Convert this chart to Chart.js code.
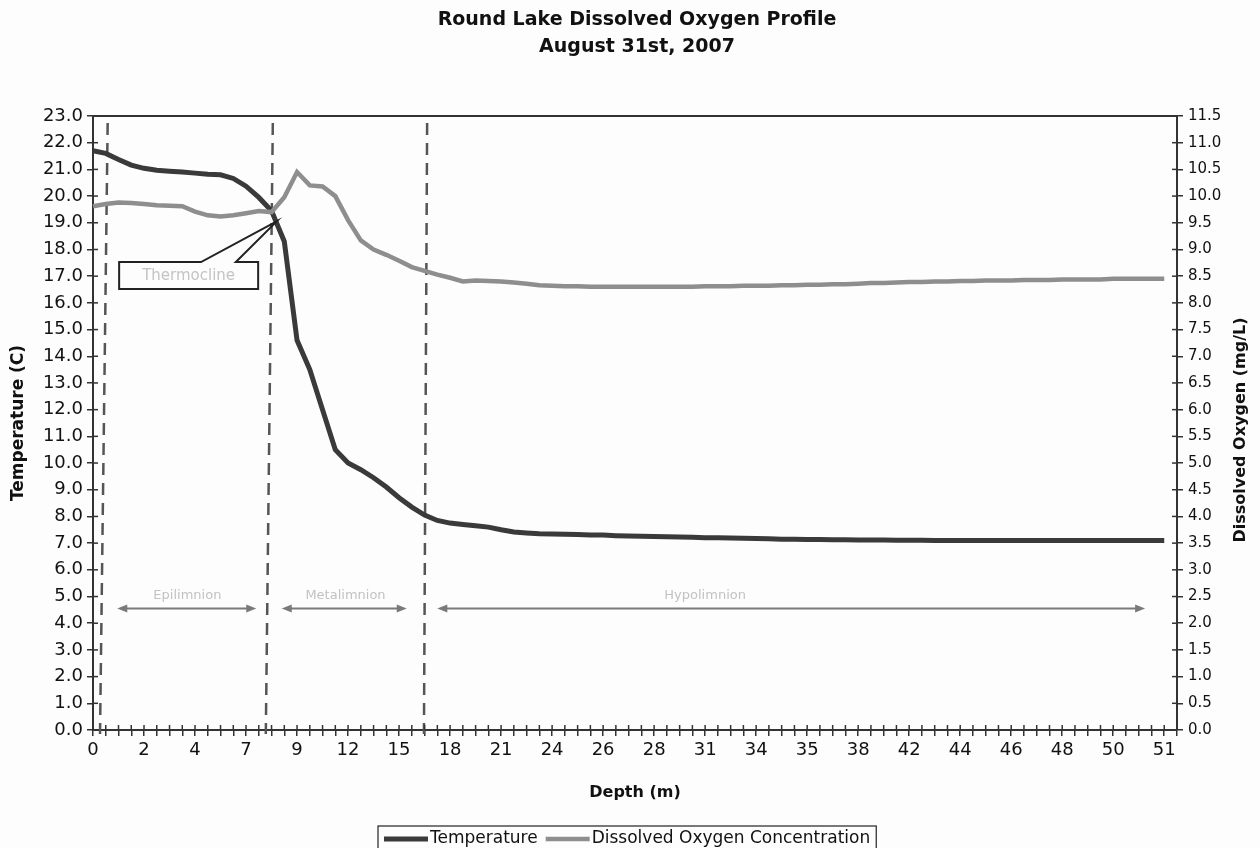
<!DOCTYPE html>
<html><head><meta charset="utf-8">
<style>html,body{margin:0;padding:0;background:#fdfdfd;}#wrap{width:1260px;height:848px;position:relative;}</style>
<script src="https://cdn.jsdelivr.net/npm/chart.js@4.4.1/dist/chart.umd.min.js"></script>
</head><body><div id="wrap"><canvas id="c" width="1260" height="848"></canvas></div>
<script>
const chartTitle = ["Round Lake Dissolved Oxygen Profile", "August 31st, 2007"];
// 86 categories: the last one is an empty row of the sheet (no reading, no label)
const depthLabels = ["0","0.5","1","1.5","2","2.5","3","3.5","4","5","6","6.5","7","7.5","8","8.5","9","10","10.5","11","12","13","13.5","14","15","16","16.5","17","18","19","19.5","20","21","22","22.5","23","24","24.5","25","25.5","26","26.5","27","27.5","28","29","29.5","30","31","32","32.5","33","34","34.2","34.5","34.8","35","36","36.5","37","38","39","40","41","42","42.5","43","43.5","44","44.5","45","45.5","46","46.5","47","47.5","48","48.5","49","49.5","50","50.25","50.5","50.75","51",""];
const temperature = [21.7,21.6,21.37,21.16,21.04,20.97,20.93,20.9,20.86,20.82,
 20.8,20.66,20.37,19.95,19.45,18.3,14.6,13.5,12.0,10.5,
 10.0,9.75,9.45,9.1,8.7,8.35,8.05,7.85,7.75,7.7,
 7.65,7.6,7.5,7.42,7.38,7.35,
 7.34,7.33,7.32,7.3,7.3,7.28,7.27,7.26,7.25,7.24,
 7.23,7.22,7.2,7.2,7.19,7.18,7.17,7.16,7.15,7.15,
 7.14,7.14,7.13,7.13,7.12,7.12,7.12,7.11,7.11,7.11,
 7.1,7.1,7.1,7.1,7.1,7.1,7.1,7.1,7.1,7.1,7.1,7.1,7.1,7.1,7.1,7.1,7.1,7.1,7.1];
const dissolvedOxygen = [9.81,9.85,9.88,9.87,9.85,9.83,9.82,9.81,9.71,9.64,
 9.62,9.64,9.68,9.72,9.70,9.98,10.45,10.2,10.18,10.0,
 9.55,9.17,9.0,8.9,8.79,8.67,8.6,8.53,8.47,8.4,
 8.42,8.41,8.4,8.38,8.36,8.33,
 8.32,8.31,8.31,8.3,8.3,8.3,8.3,8.3,8.3,8.3,8.3,8.3,8.31,8.31,8.31,8.32,8.32,8.32,8.33,8.33,
 8.34,8.34,8.35,8.35,8.36,8.37,8.37,8.38,8.39,8.39,8.4,8.4,8.41,8.41,8.42,8.42,8.42,8.43,8.43,8.43,8.44,8.44,8.44,8.44,8.45,8.45,8.45,8.45,8.45];
const seriesNames = ["Temperature", "Dissolved Oxygen Concentration"];
const axisTitles = {x: "Depth (m)", left: "Temperature (C)", right: "Dissolved Oxygen (mg/L)"};
// layer boundaries (category positions, top and bottom of the slightly skewed scan)
const boundaryTop = [1.15, 14.1, 26.2];
const boundaryBottom = [0.55, 13.55, 25.95];
const layerNames = ["Epilimnion", "Metalimnion", "Hypolimnion"];
const layerFrom = [1.9, 14.8, 27.0];
const layerTo = [12.8, 24.6, 82.5];
const calloutText = "Thermocline";

const FONT = "'DejaVu Sans', sans-serif";
const FAM = "DejaVu Sans";

function arrow(ctx, x1, x2, y){
  ctx.beginPath(); ctx.moveTo(x1+6, y); ctx.lineTo(x2-6, y); ctx.stroke();
  ctx.beginPath(); ctx.moveTo(x1, y); ctx.lineTo(x1+10, y-4); ctx.lineTo(x1+10, y+4); ctx.closePath(); ctx.fill();
  ctx.beginPath(); ctx.moveTo(x2, y); ctx.lineTo(x2-10, y-4); ctx.lineTo(x2-10, y+4); ctx.closePath(); ctx.fill();
}

const decor = {
  id: 'decor',
  beforeDatasetsDraw(chart){
    const {ctx, chartArea: a, scales: {x}} = chart;
    ctx.save();
    ctx.strokeStyle = '#333'; ctx.lineWidth = 2;
    ctx.beginPath(); ctx.moveTo(a.left, a.top); ctx.lineTo(a.right, a.top); ctx.stroke();
    ctx.setLineDash([12, 8]); ctx.strokeStyle = '#555'; ctx.lineWidth = 2.5;
    boundaryTop.forEach((t, k) => {
      ctx.beginPath();
      ctx.moveTo(x.getPixelForValue(t), a.top + 7);
      ctx.lineTo(x.getPixelForValue(boundaryBottom[k]), a.bottom + 4);
      ctx.stroke();
    });
    ctx.restore();
  },
  afterDraw(chart){
    const {ctx, chartArea: a, scales: {x, yT, yDO}} = chart;
    ctx.save();
    ctx.strokeStyle = '#333'; ctx.lineWidth = 1.5;
    x.ticks.forEach((t, i) => { const p = x.getPixelForTick(i); ctx.beginPath(); ctx.moveTo(p, a.bottom); ctx.lineTo(p, a.bottom - 5); ctx.stroke(); });
    yT.ticks.forEach((t, i) => { const p = yT.getPixelForTick(i); ctx.beginPath(); ctx.moveTo(a.left, p); ctx.lineTo(a.left + 5, p); ctx.stroke(); });
    yDO.ticks.forEach((t, i) => { const p = yDO.getPixelForTick(i); ctx.beginPath(); ctx.moveTo(a.right - 5, p); ctx.lineTo(a.right, p); ctx.stroke(); });
    ctx.fillStyle = '#111'; ctx.textAlign = 'center'; ctx.textBaseline = 'middle';
    ctx.font = "bold 19px " + FONT;
    ctx.fillText(chartTitle[0], 637, 20);
    ctx.fillText(chartTitle[1], 637, 47);
    ctx.save();
    ctx.translate(1241, 430);
    ctx.rotate(-Math.PI / 2);
    ctx.font = "bold 16px " + FONT;
    ctx.fillText(axisTitles.right, 0, 0);
    ctx.restore();
    const bx1 = x.getPixelForValue(2.05), bx2 = x.getPixelForValue(12.95);
    const by1 = yT.getPixelForValue(17.53), by2 = yT.getPixelForValue(16.52);
    const c1 = x.getPixelForValue(8.47), c2 = x.getPixelForValue(11.2);
    const tx = x.getPixelForValue(14.4), ty = yT.getPixelForValue(19.05);
    ctx.strokeStyle = '#222'; ctx.lineWidth = 2; ctx.lineJoin = 'miter';
    ctx.beginPath();
    ctx.moveTo(bx1, by1); ctx.lineTo(c1, by1); ctx.lineTo(tx, ty); ctx.lineTo(c2, by1);
    ctx.lineTo(bx2, by1); ctx.lineTo(bx2, by2); ctx.lineTo(bx1, by2); ctx.closePath();
    ctx.stroke();
    ctx.fillStyle = '#c4c4c4'; ctx.font = "15px " + FONT;
    ctx.fillText(calloutText, (bx1 + bx2) / 2, (by1 + by2) / 2 + 1);
    const ay = yT.getPixelForValue(4.55);
    ctx.strokeStyle = '#7a7a7a'; ctx.fillStyle = '#7a7a7a'; ctx.lineWidth = 2;
    layerNames.forEach((n, k) => arrow(ctx, x.getPixelForValue(layerFrom[k]), x.getPixelForValue(layerTo[k]), ay));
    ctx.fillStyle = '#c2c2c2'; ctx.font = "13px " + FONT;
    ctx.fillText(layerNames[0], x.getPixelForValue(7.4), ay - 13);
    ctx.fillText(layerNames[1], x.getPixelForValue(19.8), ay - 13);
    ctx.fillText(layerNames[2], x.getPixelForValue(48), ay - 13);
    ctx.font = "17px " + FONT; ctx.textAlign = 'left';
    let lx = 384; const ly = 839;
    const start = 378;
    chart.data.datasets.forEach(ds => {
      ctx.strokeStyle = ds.borderColor; ctx.lineWidth = ds.borderWidth;
      ctx.beginPath(); ctx.moveTo(lx, ly); ctx.lineTo(lx + 44, ly); ctx.stroke();
      lx += 46;
      ctx.fillStyle = '#111'; ctx.fillText(ds.label, lx, ly);
      lx += ctx.measureText(ds.label).width + 8;
    });
    ctx.strokeStyle = '#222'; ctx.lineWidth = 1.2;
    ctx.strokeRect(start, 826, lx - start - 2, 30);
    ctx.restore();
  }
};

const tickFont = {family: FAM, size: 18};
new Chart(document.getElementById('c'), {
  type: 'line',
  data: {
    labels: depthLabels,
    datasets: [
      {label: seriesNames[0], data: temperature, yAxisID: 'yT', borderColor: '#3a3a3a', borderWidth: 5, pointRadius: 0, tension: 0, order: 2},
      {label: seriesNames[1], data: dissolvedOxygen, yAxisID: 'yDO', borderColor: '#8e8e8e', borderWidth: 4.5, pointRadius: 0, tension: 0, order: 1}
    ]
  },
  options: {
    responsive: false, animation: false, devicePixelRatio: 1,
    layout: {padding: {top: 116, left: 0, right: 0, bottom: 0}},
    plugins: {legend: {display: false}, title: {display: false}, tooltip: {enabled: false}},
    scales: {
      x: {
        type: 'category', offset: false,
        grid: {display: true, drawOnChartArea: false, drawTicks: true, tickLength: 6, color: '#333', lineWidth: 1.5},
        border: {display: true, color: '#333', width: 2},
        ticks: {autoSkip: false, maxRotation: 0, minRotation: 0, padding: 4, color: '#111', font: tickFont,
                callback: (v, i) => (i % 4 === 0 ? depthLabels[i] : '')},
        title: {display: true, text: axisTitles.x, color: '#111', font: {family: FAM, size: 16, weight: 'bold'}, padding: {top: 0, bottom: 46}},
        afterFit: s => { s.height = 118; }
      },
      yT: {
        position: 'left', min: 0, max: 23,
        grid: {display: true, drawOnChartArea: false, tickLength: 6, color: '#333', lineWidth: 1.5},
        border: {display: true, color: '#333', width: 2},
        ticks: {stepSize: 1, padding: 4, color: '#111', font: tickFont, callback: v => Number(v).toFixed(1)},
        title: {display: true, text: axisTitles.left, color: '#111', font: {family: FAM, size: 17, weight: 'bold'}, padding: {top: 8, bottom: 0}},
        afterFit: s => { s.width = 93; }
      },
      yDO: {
        position: 'right', min: 0, max: 11.5,
        grid: {display: true, drawOnChartArea: false, tickLength: 6, color: '#333', lineWidth: 1.5},
        border: {display: true, color: '#333', width: 2},
        ticks: {stepSize: 0.5, padding: 5, color: '#111', font: {family: FAM, size: 15}, callback: v => Number(v).toFixed(1)},
        title: {display: false},
        afterFit: s => { s.width = 83; }
      }
    }
  },
  plugins: [decor]
});
</script></body></html>
